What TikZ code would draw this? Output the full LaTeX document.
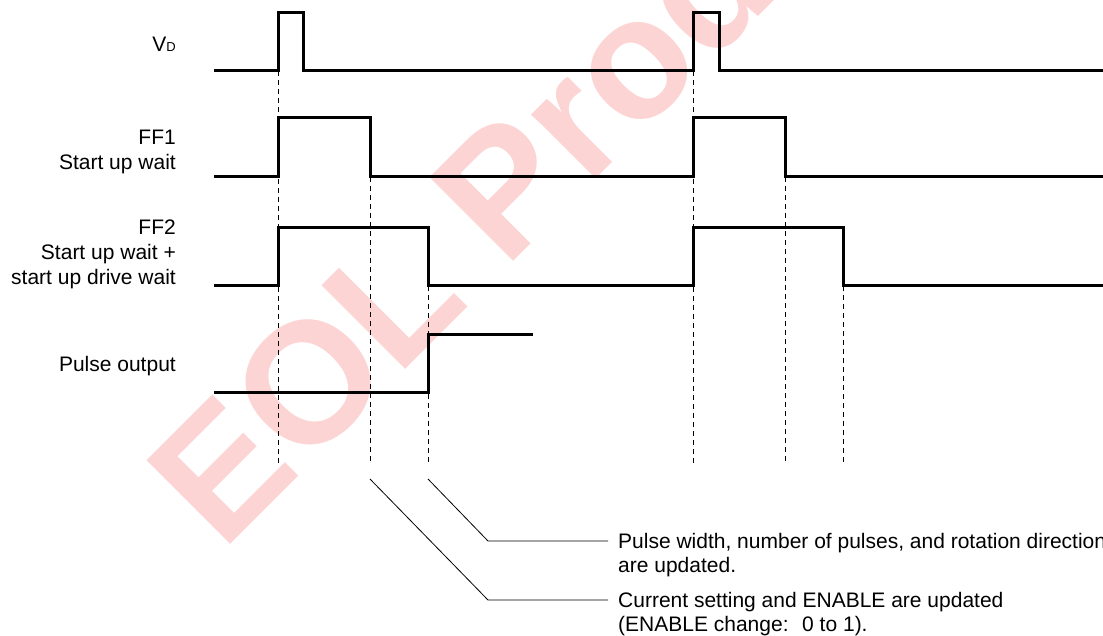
\documentclass[tikz,border=0pt]{standalone}
\usepackage{fontspec}
\setmainfont{Liberation Sans}
\usetikzlibrary{positioning}
\definecolor{wmark}{RGB}{252,212,212}

\begin{document}
\begin{tikzpicture}[
  x=1pt,y=-1pt,
  font=\fontsize{21}{25}\selectfont,
  lbl/.style={anchor=north east,align=right,inner sep=0pt},
  note/.style={anchor=north west,align=left,inner xsep=10pt,inner ysep=0pt,
    font=\fontsize{21}{24}\selectfont},
  sig/.style={draw,line width=3pt},
  guide/.style={draw,dash pattern=on 5pt off 4pt,line width=0.9pt},
  lead/.style={draw,line width=0.8pt}
]
\useasboundingbox (0,0) rectangle (1103,636);

% watermark
\node[rotate=45,anchor=base west,inner sep=0pt,text=wmark,
  font=\fontsize{172}{172}\selectfont\bfseries] (wm) at (222,553) {EOL Prod};

% Signal names
\node[anchor=base east,inner sep=0pt] (vd) at (176,52) {V{\fontsize{13}{13}\selectfont D}};
\node[lbl] (ff1) at (176,130) {FF1\\Start up wait};
\node[lbl] (ff2) at (176,220) {FF2\\Start up wait +\\start up drive wait};
\node[anchor=base east,inner sep=0pt] (po) at (176,371) {Pulse output};

% Waveforms
\draw[sig] (214,71) -- (278,71) -- (278,13) -- (303,13) -- (303,71) -- (693,71)
  -- (693,13) -- (719,13) -- (719,71) -- (1110,71);
\draw[sig] (214,177) -- (278,177) -- (278,118) -- (370,118) -- (370,177) -- (693,177)
  -- (693,118) -- (785,118) -- (785,177) -- (1110,177);
\draw[sig] (214,286) -- (278,286) -- (278,228) -- (428,228) -- (428,286) -- (693,286)
  -- (693,228) -- (843,228) -- (843,286) -- (1110,286);
\draw[sig] (214,392) -- (428,392) -- (428,334) -- (533,334);

% Timing guides
\foreach \t/\s in {278/71,370/177,428/286,693/71,785/177,843/286}
  \draw[guide] (\t,\s) -- (\t,463);

% Notes
\node[note] (upd1) at (608,533) {Pulse width, number of pulses, and rotation direction\\are updated.};
\node[note] (upd2) at (608,592) {Current setting and ENABLE are updated\\(ENABLE change:~ 0 to 1).};
\coordinate (k1) at (428,479);
\coordinate (k2) at (370,479);
\coordinate (b1) at (488,541);
\coordinate (b2) at (488,600);
\draw[lead] (k1) -- (b1) -- (b1 -| upd1.west);
\draw[lead] (k2) -- (b2) -- (b2 -| upd2.west);
\end{tikzpicture}
\end{document}
